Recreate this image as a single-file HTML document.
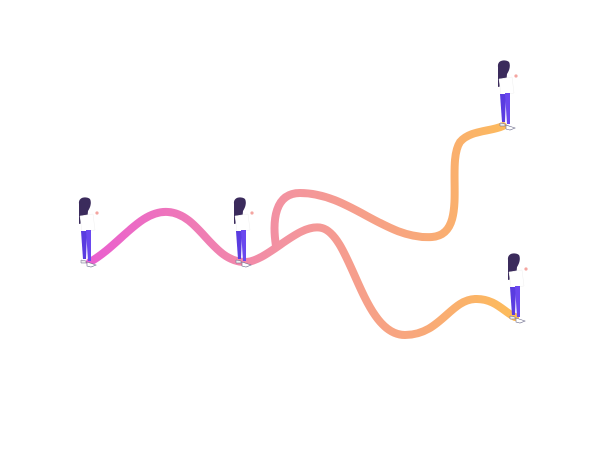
<!DOCTYPE html>
<html><head><style>html,body{margin:0;padding:0;background:#fff;width:600px;height:450px;overflow:hidden}</style></head>
<body>
<svg width="600" height="450" viewBox="0 0 600 450" xmlns="http://www.w3.org/2000/svg">
<defs>
<linearGradient id="g" gradientUnits="userSpaceOnUse" x1="90" y1="0" x2="520" y2="0">
<stop offset="0" stop-color="#ea5fcf"/>
<stop offset="0.45" stop-color="#f393a0"/>
<stop offset="0.75" stop-color="#f8a77c"/>
<stop offset="1" stop-color="#fdbd58"/>
</linearGradient>
<g id="p">
<path d="M-9,-60 C-10,-67 -2,-68 2,-65 C4,-61 2,-56 0,-53 L-1,-42 L-9,-40 Z" fill="#3b2b5c"/>
<path d="M-8,-48 L5,-50 L7,-34 L-6,-32 Z" fill="#ffffff" stroke="#f0f0f0" stroke-width="0.5"/>
<circle cx="9" cy="-51" r="1.6" fill="#f4a5a0"/>
<path d="M-7,-33 L-1,-33 L-2,-5 L-5,-5 Z" fill="#5a3ce0"/>
<path d="M-2,-34 L3,-34 L3,-3 L0,-3 Z" fill="#6a48ef"/>
<path d="M-7,-4 L-2,-3 L-2,-1 L-7,-1 Z" fill="#eee" stroke="#6a6a8a" stroke-width="0.5"/>
<path d="M-1,-2 L5,0 L8,1 L3,3 L-1,2 Z" fill="#fff" stroke="#6a6a8a" stroke-width="0.6"/>
</g>
</defs>
<g fill="none" stroke="url(#g)" stroke-width="8" stroke-linecap="round">
<path d="M90,262 C120,245 140,210 168,212 C200,214 212,262 245,262 C268,262 298,222 322,228 C352,236 362,335 405,335 C440,335 450,300 475,299 C495,298 505,313 515,317"/>
<path d="M276,246 C272,220 275,193 300,193 C350,193 385,240 432,237 C470,234 445,165 460,142 C470,130 490,132 503,126"/>
</g>
<use href="#p" x="88" y="264"/>
<use href="#p" x="243" y="264"/>
<use href="#p" x="507" y="127"/>
<use href="#p" x="517" y="320"/>
</svg>
</body></html>
